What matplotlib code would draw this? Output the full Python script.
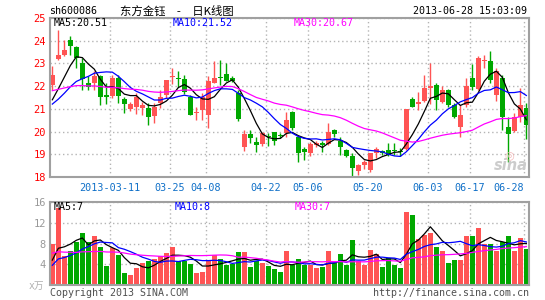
import matplotlib.pyplot as plt
import numpy as np
import pandas as pd

plt.rcParams['font.family'] = ['DejaVu Sans Mono', 'Noto Sans CJK SC']

# date ticks (index of trading day in the window -> label)
tick_idx = [10, 20, 26, 36, 43, 53, 63, 70, 79]
tick_labels = ['2013-03-11', '03-25', '04-08', '04-22', '05-06', '05-20', '06-03', '06-17', '06-28']

opens = [22.06, 23.21, 23.38, 24.01, 23.72, 23.01, 22.13, 22.13, 22.46, 21.62,
         21.57, 22.38, 21.43, 20.99, 21.06, 21.03, 21.03, 20.69, 21.25, 21.59,
         22.40, 22.33, 22.31, 21.54, 20.81, 20.96, 20.74, 22.13, 22.38, 22.53,
         22.35, 21.72, 19.34, 19.88, 19.53, 19.44, 19.80, 19.97, 19.83, 19.93,
         20.88, 19.74, 19.24, 19.04, 19.40, 19.46, 19.44, 20.07, 19.59, 19.19,
         18.93, 18.26, 18.53, 18.31, 19.07, 19.16, 19.19, 19.18, 19.16, 19.22,
         21.43, 21.21, 21.35, 21.91, 22.06, 21.32, 21.84, 21.15, 20.19, 21.15,
         22.38, 21.88, 23.10, 23.12, 21.62, 22.38, 20.22, 20.03, 20.62, 21.03]
highs = [22.87, 24.49, 24.04, 24.19, 23.75, 23.24, 22.43, 22.65, 22.50, 22.13,
         22.50, 22.50, 21.54, 21.32, 21.69, 21.32, 21.25, 21.25, 21.84, 22.28,
         22.78, 22.65, 22.50, 21.62, 21.10, 21.69, 22.43, 23.09, 23.16, 23.01,
         22.43, 21.84, 20.07, 20.07, 19.78, 20.00, 19.93, 19.97, 19.93, 20.88,
         20.91, 19.78, 19.34, 19.56, 19.59, 19.59, 20.37, 20.12, 19.78, 19.24,
         19.04, 18.56, 18.75, 19.04, 19.34, 19.19, 19.49, 19.49, 19.26, 21.00,
         21.54, 21.76, 22.50, 23.01, 22.13, 21.99, 21.87, 21.25, 21.15, 22.35,
         22.97, 23.31, 23.35, 23.53, 22.82, 22.50, 20.62, 20.81, 21.91, 21.25]
lows = [21.84, 23.16, 23.32, 23.38, 22.79, 21.84, 21.84, 21.84, 21.18, 21.21,
        21.47, 21.25, 20.81, 20.91, 20.76, 20.74, 20.29, 20.37, 21.03, 21.47,
        22.10, 21.95, 21.65, 20.71, 20.51, 20.51, 20.15, 22.13, 22.06, 22.21,
        22.18, 20.46, 19.15, 19.49, 19.12, 19.37, 19.38, 19.41, 19.71, 19.78,
        20.07, 18.65, 18.75, 18.94, 19.34, 19.12, 19.41, 19.78, 18.97, 18.90,
        18.02, 18.09, 18.35, 18.24, 18.82, 18.97, 18.94, 18.97, 18.93, 19.19,
        21.06, 20.96, 21.32, 21.20, 20.96, 21.25, 21.10, 20.59, 19.78, 21.10,
        21.84, 21.84, 22.79, 22.13, 21.35, 20.07, 18.68, 20.00, 20.44, 19.68]
closes = [22.50, 23.38, 23.60, 23.75, 23.24, 22.31, 21.97, 22.46, 21.53, 21.54,
          22.38, 21.57, 21.22, 21.21, 21.54, 21.18, 20.62, 21.10, 21.54, 22.28,
          22.46, 22.31, 21.76, 20.74, 20.84, 21.54, 22.21, 22.35, 22.35, 22.24,
          22.24, 20.56, 19.88, 19.71, 19.41, 19.93, 19.76, 19.59, 19.80, 20.51,
          20.15, 19.05, 19.09, 19.44, 19.48, 19.43, 20.00, 19.88, 19.34, 18.94,
          18.38, 18.53, 18.65, 19.04, 19.24, 19.04, 18.97, 19.15, 19.12, 20.99,
          21.10, 21.32, 21.91, 22.01, 21.40, 21.84, 21.15, 20.62, 20.74, 21.99,
          21.97, 23.26, 23.13, 22.28, 22.65, 20.62, 19.88, 20.66, 21.15, 20.29]
volumes = [7.9, 14.9, 5.6, 6.5, 8.2, 10.1, 8.3, 9.4, 7.4, 3.7,
           7.2, 5.7, 2.4, 2.0, 3.2, 4.3, 4.6, 5.0, 5.6, 6.1,
           7.4, 4.6, 4.6, 4.1, 2.4, 2.6, 4.6, 5.7, 5.1, 3.8,
           4.1, 6.3, 6.3, 3.4, 4.6, 4.3, 3.6, 3.0, 2.5, 6.6,
           3.8, 5.1, 3.8, 3.8, 3.2, 3.4, 6.5, 4.3, 5.9, 3.8,
           8.6, 4.6, 3.9, 6.7, 5.9, 3.5, 5.2, 3.8, 3.2, 14.0,
           13.5, 8.8, 9.7, 10.1, 7.4, 6.6, 4.3, 4.9, 4.9, 9.5,
           9.5, 10.9, 8.0, 8.0, 6.5, 8.3, 9.4, 6.5, 9.0, 6.9]

# 29 sessions before the window, only needed to start the moving averages
prior_closes = [21.6, 21.8, 22.0, 21.9, 22.2, 22.5, 22.4, 22.3, 22.6, 22.4,
                22.2, 22.3, 22.0, 21.9, 22.1, 22.2, 22.0, 21.9, 21.8, 21.8,
                21.2, 21.0, 20.9, 20.9, 21.1, 20.95, 21.05, 21.2, 21.3]
prior_volumes = [6.5, 8.0, 7.2, 9.0, 6.8, 7.5, 8.2, 6.9, 7.0, 7.8,
                 6.4, 7.1, 8.5, 6.6, 7.3, 7.0, 6.8, 7.6, 7.2, 6.6,
                 2.6, 3.0, 2.5, 3.1, 2.8, 3.5, 4.2, 3.9, 4.5]

up_col = '#ff5454'
down_col = '#00a800'
grid_col = '#b4b4b4'
spine_col = '#a0a0a0'

n = len(closes)
xs = np.arange(n) + 0.39
o = np.array(opens)
c = np.array(closes)
cols = [up_col if cc >= oo else down_col for oo, cc in zip(o, c)]

all_c = pd.Series(prior_closes + closes)
all_v = pd.Series(prior_volumes + volumes)
k = len(prior_closes)
ma5 = all_c.rolling(5).mean().values[k:]
ma10 = all_c.rolling(10).mean().values[k:]
ma30 = all_c.rolling(30).mean().values[k:]
vma5 = all_v.rolling(5).mean().values[k:]
vma10 = all_v.rolling(10).mean().values[k:]
vma30 = all_v.rolling(30).mean().values[k:]

W, H = 545, 300
fig = plt.figure(figsize=(W / 100, H / 100), dpi=100)
fig.patch.set_facecolor('white')


def box(x0, y0, x1, y1):
    return [x0 / W, 1 - y1 / H, (x1 - x0) / W, (y1 - y0) / H]


def ftext(x, y, s, **kw):
    fig.text(x / W, 1 - y / H, s, **kw)


ax = fig.add_axes(box(50, 18, 529, 177))
axv = fig.add_axes(box(50, 202, 529, 285))

for a in (ax, axv):
    a.set_xlim(0, 479 / 6)
    a.set_xticks(tick_idx)
    a.grid(True, color=grid_col, linestyle=(0, (1, 2)), linewidth=1)
    a.set_axisbelow(True)
    a.tick_params(length=0)
    for s in a.spines.values():
        s.set_color(spine_col)
        s.set_linewidth(1.5)

# candles
ax.vlines(xs, lows, highs, colors=cols, linewidth=1)
body = np.maximum(np.abs(c - o), 0.045)
ax.bar(xs, body, bottom=np.minimum(o, c), width=0.78, color=cols, linewidth=0)
ax.plot(xs, ma5, color='black', linewidth=0.9)
ax.plot(xs, ma10, color='#0000ff', linewidth=0.9)
ax.plot(xs, ma30, color='#ff00ff', linewidth=0.9)
ax.set_ylim(18, 25)
ax.set_yticks(range(18, 26))
ax.set_yticklabels([str(v) for v in range(18, 26)], color='#ff0000', fontsize=7.5)
ax.tick_params(axis='y', pad=3)
ax.set_xticklabels(tick_labels, color='#1070c8', fontsize=7.3)
ax.tick_params(axis='x', pad=4)
ax.get_xticklabels()[-1].set_ha('right')

# volume
axv.bar(xs, volumes, width=0.78, color=cols, linewidth=0)
axv.plot(xs, vma5, color='black', linewidth=0.9)
axv.plot(xs, vma10, color='#0000ff', linewidth=0.9)
axv.plot(xs, vma30, color='#ff00ff', linewidth=0.9)
axv.set_ylim(0, 16)
axv.set_yticks([4, 8, 12, 16])
axv.set_yticklabels(['4', '8', '12', '16'], color='#999999', fontsize=7.5)
axv.tick_params(axis='y', pad=3)
axv.set_xticklabels([])

# texts
ftext(49.5, 11, 'sh600086', fontsize=7.2, va='center')
ftext(120, 11, '东方金钰\u3000-\u3000日K线图', fontsize=8.2, va='center',
      family=['Noto Sans CJK SC', 'DejaVu Sans'])
ftext(527, 11, '2013-06-28 15:03:09', fontsize=7.2, va='center', ha='right')

ftext(54, 23.5, 'MA5:20.51', fontsize=7.2, va='center', color='black')
ftext(173, 23.5, 'MA10:21.52', fontsize=7.2, va='center', color='#0000ff')
ftext(294, 23.5, 'MA30:20.67', fontsize=7.2, va='center', color='#ff00ff')

ftext(54, 206.5, 'MA5:7', fontsize=7.2, va='center', color='black')
ftext(175, 206.5, 'MA10:8', fontsize=7.2, va='center', color='#0000ff')
ftext(295, 206.5, 'MA30:7', fontsize=7.2, va='center', color='#ff00ff')

ftext(29, 286, 'x万', fontsize=7, va='center', color='#b0b0b0')
ftext(50, 292.5, 'Copyright 2013 SINA.COM', fontsize=7.2, va='center', color='#505050')
ftext(529, 292.5, 'http://finance.sina.com.cn', fontsize=7.2, va='center', ha='right',
      color='#505050')

# sina watermark
ftext(511, 166, 'sina', fontsize=10.5, fontweight='bold', style='italic', va='center',
      ha='center', color='#cccccc', family='DejaVu Sans')
ftext(509, 155, '◎', fontsize=8, va='center', ha='center', color='#f3b8b8',
      family='DejaVu Sans')

fig.savefig('out.png', dpi=100, facecolor='white')
